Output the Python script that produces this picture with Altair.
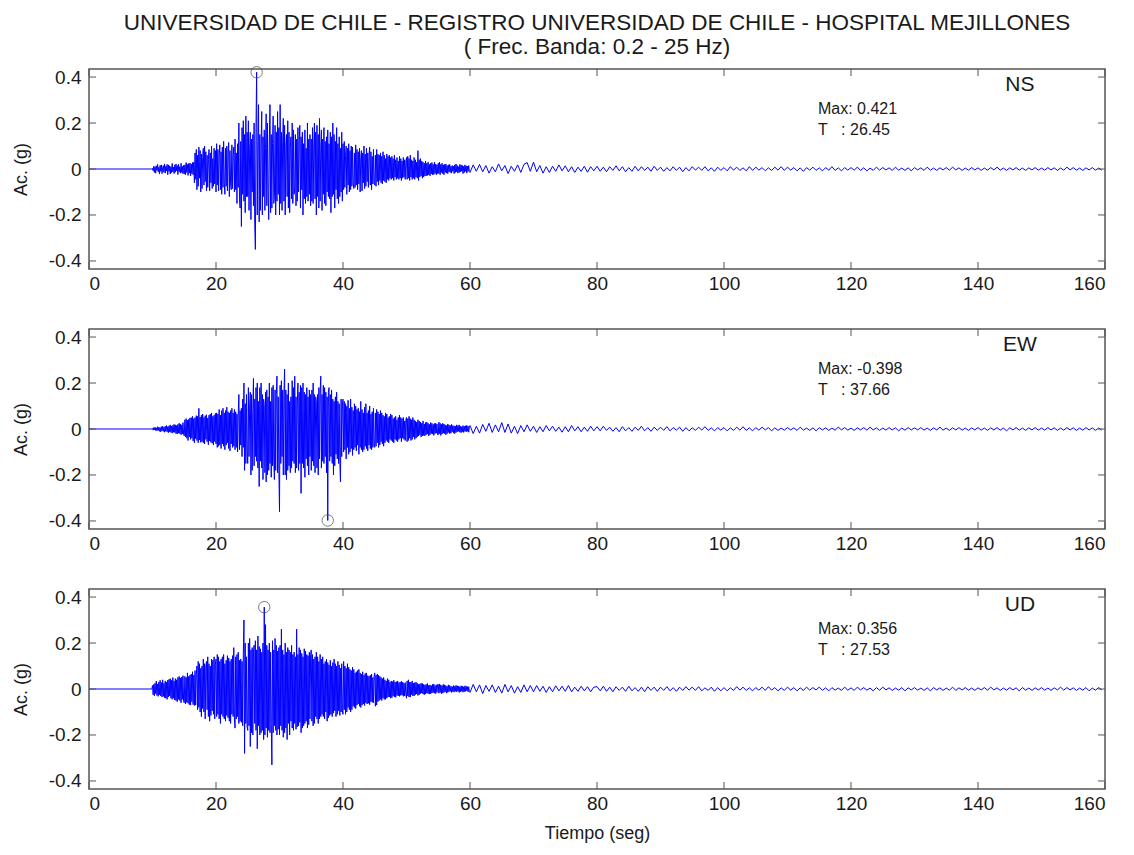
import altair as alt
import pandas as pd

# ---------------- data (accelerations in milli-g) ----------------
T_MAIN0, DT_MAIN = 10.0, 0.1     # strong-motion part, 10 s .. 60 s (one row of 10 = 1 s)
T_TAIL0, DT_TAIL = 60.0, 0.5     # coda, 60 s .. 160 s
PRE_TIMES = [0.0, 9.9]           # quiet record before the event

ns_main = [
    3, -8, 12, -15, 10, -18, 14, -6, 20, -12,
    8, -22, 16, -10, 18, -20, 5, 15, -14, 22,
    -18, 12, -8, 20, -25, 18, -10, 14, -22, 10,
    -16, 24, -12, 8, -20, 18, -14, 22, -8, 15,
    -24, 20, -12, 10, -18, 25, -15, 12, -20, 16,
    -22, 18, -25, 28, -15, 20, -28, 24, -18, 26,
    -30, 22, -20, 28, -25, 30, -60, 70, -45, 85,
    -90, 60, -75, 95, -40, 80, -100, 65, -85, 50,
    90, -70, 100, -55, 75, -95, 60, -80, 40, 85,
    -95, 70, -60, 100, -85, 45, -75, 90, -65, 80,
    -100, 110, -70, 85, -95, 60, 105, -90, 75, -110,
    95, -80, 120, -60, -110, 90, -75, 100, -95, 70,
    115, -120, 80, -65, -90, 105, -85, 60, 95, -100,
    130, -90, 70, -150, 110, -80, 200, -130, -170, 120,
    -250, 180, -110, 210, -140, 150, -190, 230, -120, 160,
    -120, 210, -180, 90, 160, -220, 130, -100, 150, -160,
    200, -240, -350, 180, 421, -200, 120, 280, -230, 150,
    -180, 100, 250, -200, 140, -120, 170, -180, 90, 240,
    -160, 200, -90, -220, 130, 280, -190, 150, -170, 110,
    230, -150, -120, 190, -200, 160, -140, 250, -110, 180,
    -200, 280, -150, 160, -180, 120, 220, -140, 190, -200,
    100, 150, -120, 210, -170, 160, -190, 90, 140, -130,
    200, -150, 170, -110, -80, 150, -160, 130, -140, 180,
    -100, 120, 190, -170, 140, -90, 160, -200, 110, -130,
    170, -150, 90, -120, 200, -140, 130, -110, 150, -160,
    130, -140, 180, -150, 100, 200, -130, 160, -200, 190,
    -120, 150, -170, 220, -140, 90, 170, -180, 130, -110,
    180, -150, 120, -160, 140, -100, 170, -120, 110, -130,
    160, -190, 140, -120, 200, -110, 150, -170, 120, -90,
    180, -130, 110, -150, 140, -120, 90, -100, 160, -140,
    110, -90, 120, -80, 60, 100, -110, 90, -70, 110,
    -100, 80, -90, 100, -75, 95, -60, -85, 70, -80,
    105, -70, 85, -90, 75, -65, 90, -100, 50, 80,
    -95, 70, -60, 100, -85, 65, -75, 90, -55, 70,
    -80, 60, 95, -70, 75, -90, 55, -65, 85, -60,
    -70, 60, -75, 85, -55, 65, -70, 60, -50, 70,
    -60, 55, -65, 75, -50, 60, -55, 45, -60, 65,
    -45, 55, -50, 60, -40, 50, -45, 55, -40, 45,
    -50, 60, -35, 40, -45, 50, -40, 35, -45, 55,
    -40, 45, -50, 35, -40, 50, -35, 40, -45, 30,
    50, -45, 55, -40, 45, -50, 60, -35, 40, -45,
    35, -40, 50, -45, 40, -35, 30, -40, 80, -50,
    40, -35, 45, -30, 35, -40, 30, -35, 25, -30,
    35, -30, 25, -28, 30, -25, 20, -30, 25, -22,
    28, -25, 20, -24, 30, -20, 22, -25, 18, -20,
    25, -20, 30, -25, 20, -15, 25, -20, 18, -25,
    20, -15, 22, -18, 15, -20, 18, -12, 20, -15,
    12, -18, 15, -10, 12, -20, 18, -15, 22, -12,
    15, -18, 10, -15, 20, -12, 18, -10, 15, -20,
    12, -15, 18, -10, 14, -18, 12, -10, 15, -12,
]
ns_tail = [
    -15, 18, -10, 20, -12, 15, -18, 10, -12, 22, -8, 15, -20, 12, -10, 18, -15, 20, 28, -10,
    30, -12, 15, -18, 10, -15, 12, -10, 18, -8, 14, -12, 10, -15, 8, -10, 12, -14, 10, -8,
    12, -10, 8, -12, 10, -6, 14, -8, 10, -12, 6, -10, 12, -8, 10, -6, 8, -10, 12, -6,
    8, -10, 6, -8, 10, -6, 8, -12, 6, -8, 10, -5, 8, -6, 10, -8, 5, -10, 8, -6,
    6, -8, 10, -5, 8, -6, 5, -8, 10, -6, 8, -5, 6, -8, 5, -6, 8, -5, 10, -6,
    8, -5, 6, -8, 5, -10, 6, -5, 8, -6, 5, -8, 6, -5, 10, -6, 5, -8, 6, -5,
    6, -5, 8, -6, 5, -8, 4, -6, 8, -5, 6, -4, 5, -6, 8, -5, 4, -6, 5, -8,
    6, -4, 5, -6, 8, -5, 4, -6, 5, -4, 6, -5, 8, -4, 5, -6, 4, -5, 6, -4,
    5, -6, 4, -5, 6, -4, 8, -5, 4, -6, 5, -4, 6, -5, 4, -6, 5, -4, 6, -5,
    4, -5, 6, -4, 5, -6, 4, -5, 8, -4, 6, -5, 4, -6, 5, -4, 6, -5, 4, -5,
]

ew_main = [
    2, -5, 6, -4, 8, -6, 5, -8, 10, -6,
    8, -10, 6, -12, 10, -8, 12, -10, 8, -14,
    12, -10, 15, -12, 10, -16, 14, -12, 18, -15,
    12, -18, 16, -14, 20, -15, 18, -20, 15, -22,
    20, -18, 25, -20, 22, -25, 18, -22, 28, -24,
    -30, 40, -35, 45, -40, 38, -50, 42, -35, 48,
    -45, 50, -40, 55, -52, 45, -60, 50, -42, 58,
    -50, 55, -60, 90, -48, 52, -58, 60, -55, 65,
    -60, 50, -65, 58, -45, 62, -55, 48, -68, 60,
    -52, 65, -58, 70, -62, 55, -70, 60, -55, 68,
    -65, 70, -80, 65, -75, 85, -70, 60, -85, 80,
    -65, 90, -75, 70, -90, 80, -70, 95, -60, 75,
    -85, 70, -95, 80, -65, 90, -80, 70, -75, 85,
    -90, 75, -80, 65, -100, 60, 150, -90, 80, -70,
    90, -120, 130, -80, 200, -180, 110, -150, 150, -100,
    -150, 180, -120, 100, 160, -200, 150, -180, 90, 220,
    -160, 130, -120, 180, -140, 200, -170, 120, -250, 180,
    -140, 200, -170, 150, -220, 130, 100, -190, 160, -230,
    170, -200, 140, -180, 200, -150, 120, -210, 180, -160,
    190, -140, -220, 170, -180, 150, 230, -190, 140, -180,
    -360, 190, -150, 210, -120, 170, -200, 150, 260, -200,
    170, -220, 150, -180, 200, -160, 120, -190, 140, -170,
    210, -140, 180, -150, 230, -190, 140, -170, 100, 200,
    -180, 160, -150, 190, -280, 180, -150, 200, -170, 160,
    -210, 150, -130, 180, -160, 140, -200, 170, -120, 150,
    -180, 170, -140, 200, -160, 150, -190, 140, 120, -170,
    150, -200, 180, -130, 160, 230, -170, 150, -140, 190,
    -150, 180, -120, 160, -190, 140, -398, 160, 180, -140,
    150, -120, 170, -150, 130, -200, 120, -160, 140, -110,
    160, -130, 120, -150, 110, -140, -230, 130, -120, 100,
    130, -100, 120, -90, 110, -130, 100, -80, 125, -110,
    90, -100, 130, -85, 95, -115, 80, -90, 110, -80,
    100, -95, 85, -70, 90, -110, 75, -80, 120, -90,
    85, -100, 70, -90, 95, -75, 110, -85, 70, -95,
    80, -70, 100, -85, 65, -90, 75, -80, 90, -70,
    -80, 70, -75, 85, -60, 75, -80, 65, -70, 80,
    -55, 70, -65, 60, -75, 55, -60, 70, -50, 65,
    -55, 50, -60, 55, -45, 65, -50, 60, -55, 45,
    -60, 50, -45, 55, -50, 40, -55, 50, -45, 60,
    -40, 50, -55, 45, -40, 50, -45, 35, -50, 40,
    50, -55, 45, -50, 55, -40, 45, -50, 40, -45,
    50, -35, 40, -45, 35, -40, 30, -35, 40, -30,
    35, -25, 30, -35, 25, -30, 35, -28, 22, -30,
    28, -25, 30, -22, 25, -30, 20, -25, 28, -20,
    25, -22, 20, -28, 24, -20, 25, -18, 22, -25,
    -25, 30, -20, 25, -28, 20, -22, 25, -18, 22,
    -20, 18, -25, 15, -20, 22, -15, 18, -20, 15,
    -18, 20, -12, 15, -18, 14, -20, 12, -15, 18,
    -12, 15, -10, 18, -14, 12, -16, 10, -12, 15,
    -15, 12, -10, 14, -12, 16, -10, 12, -14, 10,
]
ew_tail = [
    15, -20, 12, -18, 20, -10, 25, -15, 18, -12, 28, -15, 22, -18, 12, -20, 15, -12, 18, -10,
    12, -15, 10, -12, 15, -8, 12, -10, 8, -14, 10, -12, 15, -8, 10, -12, 8, -10, 12, -8,
    10, -8, 12, -6, 8, -10, 6, -12, 10, -8, 6, -10, 8, -6, 12, -8, 6, -10, 8, -6,
    8, -6, 10, -8, 6, -5, 8, -10, 6, -8, 5, -6, 8, -5, 10, -6, 5, -8, 6, -5,
    6, -8, 5, -6, 8, -5, 10, -6, 5, -8, 6, -5, 8, -4, 6, -8, 5, -6, 4, -5,
    6, -4, 5, -6, 8, -5, 4, -6, 5, -8, 6, -4, 5, -6, 4, -5, 8, -4, 6, -5,
    4, -6, 5, -4, 6, -5, 8, -4, 5, -6, 4, -5, 6, -4, 5, -8, 4, -5, 6, -4,
    5, -4, 6, -5, 4, -6, 5, -4, 8, -5, 4, -6, 5, -4, 6, -5, 4, -6, 5, -4,
    6, -5, 4, -6, 5, -4, 6, -5, 4, -8, 5, -4, 6, -5, 4, -6, 5, -4, 6, -5,
    4, -5, 6, -4, 5, -6, 4, -5, 6, -4, 5, -6, 4, -5, 6, -4, 5, -6, 4, -5,
]

ud_main = [
    15, -25, 20, -30, 25, -20, 35, -28, 22, -32,
    30, -25, 38, -30, 28, -35, 40, -32, 25, -38,
    35, -40, 30, -45, 38, -35, 42, -30, 45, -40,
    38, -45, 50, -40, 35, -48, 45, -50, 40, -55,
    50, -45, 55, -50, 48, -60, 52, -45, 58, -55,
    -60, 55, -65, 50, -58, 70, -62, 55, -68, 60,
    -70, 65, -55, 75, -68, 60, -72, 80, -70, 65,
    100, -90, 120, -80, 110, -100, 90, -120, 100, -85,
    130, -100, 110, -130, 95, 120, -90, 140, -120, 110,
    -140, 100, -115, 130, -95, 125, -110, 140, -130, 105,
    130, -120, 150, -110, 140, -130, 120, -150, 130, -110,
    140, -120, 150, -130, 110, -140, 125, -115, 145, -125,
    135, -140, 120, -150, 130, -110, 145, -120, 180, -135,
    -170, 140, -130, 150, -120, 160, -150, 125, -140, 130,
    -145, 120, -160, 150, 300, -280, 200, -150, 140, -165,
    -180, 200, -160, 220, -250, 170, -190, 180, -200, 160,
    190, -150, 210, -180, 170, -260, 230, -160, 185, -200,
    175, -190, 160, -180, 200, -220, 356, -200, 280, -170,
    190, -210, 170, -180, 200, -190, 160, -150, -330, 210,
    -190, 170, -160, 220, -180, 190, -200, 165, -175, 180,
    -200, 190, -160, 260, -180, 170, -210, 150, -190, 200,
    -170, 160, -220, 180, -150, 170, -200, 160, -140, 190,
    -170, 150, -180, 160, -150, 140, -175, 260, -165, 150,
    -160, 180, -145, 170, -190, 155, -170, 140, -160, 175,
    -150, 165, -140, 150, -170, 145, -155, 160, -130, 150,
    170, -140, 150, -160, 130, -150, 140, -120, 160, -130,
    140, -150, 120, -130, 150, -120, 130, -110, 140, -120,
    110, -130, 120, -100, 130, -140, 115, -125, 105, -115,
    125, -110, 100, -120, 115, -105, 130, -95, 110, -120,
    100, -110, 120, -95, 105, -115, 90, -100, 110, -95,
    -110, 120, -90, 100, -110, 90, -100, 110, -80, 95,
    -90, 85, -100, 80, -90, 95, -75, 85, -80, 70,
    -85, 75, -70, 80, -65, 85, -75, 70, -80, 65,
    -70, 75, -65, 60, -72, 68, -60, 70, -65, 58,
    -62, 55, -68, 60, -55, 65, -58, 50, -60, 55,
    70, -75, 60, -70, 65, -55, 60, -50, 55, -45,
    50, -50, 45, -40, 50, -45, 40, -45, 35, -40,
    45, -35, 40, -35, 30, -40, 35, -38, 32, -30,
    38, -35, 30, -36, 32, -28, 35, -30, 28, -32,
    30, -28, 34, -26, 30, -32, 25, -30, 28, -24,
    -40, 35, -30, 40, -35, 30, -35, 30, -25, 35,
    -30, 25, -30, 28, -25, 30, -22, 25, -28, 20,
    -25, 22, -20, 25, -18, 24, -22, 20, -25, 18,
    -22, 20, -18, 24, -20, 16, -22, 18, -20, 15,
    -18, 20, -16, 22, -18, 15, -20, 18, -15, 20,
    20, -18, 22, -15, 18, -20, 15, -18, 20, -15,
    18, -12, 15, -18, 12, -15, 18, -12, 15, -10,
    12, -15, 10, -12, 15, -14, 12, -10, 16, -12,
    14, -10, 12, -15, 10, -12, 14, -10, 12, -14,
    10, -12, 14, -10, 12, -8, 10, -12, 10, -12,
]
ud_tail = [
    -15, 20, -12, 18, -20, 15, -10, 18, -15, 12, -18, 20, -12, 15, -18, 10, -15, 18, -12, 15,
    -12, 15, -10, 12, -15, 10, -12, 14, -8, 12, -10, 15, -12, 8, -10, 12, -8, 10, -12, 8,
    10, -8, 12, -10, 8, -12, 10, -6, 8, -10, 12, -8, 6, -10, 8, -12, 10, -6, 8, -10,
    8, -6, 10, -8, 6, -10, 8, -6, 10, -5, 8, -6, 10, -8, 5, -6, 8, -10, 6, -8,
    6, -8, 5, -6, 10, -5, 8, -6, 5, -8, 6, -5, 8, -6, 10, -5, 6, -8, 5, -6,
    8, -5, 6, -8, 5, -6, 8, -5, 6, -4, 8, -6, 5, -8, 6, -5, 4, -6, 8, -5,
    5, -6, 8, -4, 6, -5, 4, -8, 6, -5, 8, -4, 5, -6, 4, -5, 6, -8, 5, -4,
    6, -5, 4, -6, 5, -8, 6, -4, 5, -6, 4, -5, 8, -6, 5, -4, 6, -5, 4, -6,
    5, -4, 6, -5, 8, -4, 5, -6, 4, -5, 6, -4, 5, -8, 6, -5, 4, -6, 5, -4,
    6, -5, 4, -6, 5, -4, 8, -5, 6, -4, 5, -6, 4, -5, 6, -8, 4, -5, 6, -4,
]

components = ["NS", "EW", "UD"]
max_labels = ["Max: 0.421", "Max: -0.398", "Max: 0.356"]
time_labels = ["T\u00a0\u00a0\u00a0: 26.45", "T\u00a0\u00a0\u00a0: 37.66", "T\u00a0\u00a0\u00a0: 27.53"]

x_ticks = [0, 20, 40, 60, 80, 100, 120, 140, 160]
y_ticks = [-0.4, -0.2, 0, 0.2, 0.4]

title_lines = [
    "UNIVERSIDAD DE CHILE - REGISTRO UNIVERSIDAD DE CHILE - HOSPITAL MEJILLONES",
    "( Frec. Banda: 0.2 - 25 Hz)",
]

# ---------------- build ----------------
W, H = 1016, 200
FONT = "Liberation Sans"
FRAME = "#555555"
TXT = "#1a1a1a"
X_DOM = [0, 160]
Y_DOM = [-0.435, 0.435]
TICK = 7
LBL = 19


def series(main, tail):
    rows = [{"t": t, "a": 0.0} for t in PRE_TIMES]
    rows += [{"t": T_MAIN0 + i * DT_MAIN, "a": v / 1000.0} for i, v in enumerate(main)]
    rows += [{"t": T_TAIL0 + i * DT_TAIL, "a": v / 1000.0} for i, v in enumerate(tail)]
    return pd.DataFrame(rows)


xs = alt.Scale(domain=X_DOM, nice=False, zero=False)
ys = alt.Scale(domain=Y_DOM, nice=False, zero=False)
xt_df = pd.DataFrame({"v": x_ticks})
yt_df = pd.DataFrame({"v": y_ticks})


def panel(df, comp, mtxt, ttxt, last, title=None):
    xkw = dict(values=x_ticks, ticks=False, domain=False, grid=False,
               labelFontSize=LBL, labelPadding=5, labelFont=FONT,
               labelColor=TXT, titleFontSize=18, titleFont=FONT,
               titleFontWeight="normal", titleColor=TXT, titlePadding=11)
    xkw["title"] = "Tiempo (seg)" if last else None
    xaxis = alt.Axis(**xkw)
    yaxis = alt.Axis(values=y_ticks, ticks=False, domain=False, grid=False,
                     labelFontSize=LBL, labelPadding=8, labelFont=FONT,
                     labelColor=TXT, labelExpr="'' + datum.value",
                     title="Ac. (g)", titleFontSize=18, titleFont=FONT,
                     titleFontWeight="normal", titleColor=TXT, titlePadding=18)

    def X(f):
        return alt.X(f, scale=xs, axis=xaxis)

    def Y(f):
        return alt.Y(f, scale=ys, axis=yaxis)

    line = alt.Chart(df).mark_line(color="#0000ff", strokeWidth=1, clip=True).encode(
        x=X("t:Q"), y=Y("a:Q"))
    peak_i = df["a"].abs().idxmax()
    peak = alt.Chart(df.loc[[peak_i]]).mark_point(
        shape="circle", filled=False, size=130, color="#444444", strokeWidth=1
    ).encode(x=X("t:Q"), y=Y("a:Q"))

    bt = alt.Chart(xt_df).mark_rule(color=FRAME, strokeWidth=1).encode(
        x=X("v:Q"), y=alt.value(H), y2=alt.value(H - TICK))
    tt = alt.Chart(xt_df).mark_rule(color=FRAME, strokeWidth=1).encode(
        x=X("v:Q"), y=alt.value(0), y2=alt.value(TICK))
    lt = alt.Chart(yt_df).mark_rule(color=FRAME, strokeWidth=1).encode(
        y=Y("v:Q"), x=alt.value(0), x2=alt.value(TICK))
    rt = alt.Chart(yt_df).mark_rule(color=FRAME, strokeWidth=1).encode(
        y=Y("v:Q"), x=alt.value(W), x2=alt.value(W - TICK))

    lab = pd.DataFrame({"t": [146.6], "a": [0.365], "txt": [comp]})
    comp_t = alt.Chart(lab).mark_text(fontSize=21, font=FONT, color=TXT, align="center").encode(
        x=X("t:Q"), y=Y("a:Q"), text="txt:N")
    info = pd.DataFrame({"t": [114.8, 114.8], "a": [0.26, 0.17], "txt": [mtxt, ttxt]})
    info_t = alt.Chart(info).mark_text(fontSize=16, font=FONT, color=TXT, align="left").encode(
        x=X("t:Q"), y=Y("a:Q"), text="txt:N")

    props = dict(width=W, height=H)
    if title is not None:
        props["title"] = title
    return alt.layer(line, bt, tt, lt, rt, peak, comp_t, info_t).properties(**props)


data = [series(ns_main, ns_tail), series(ew_main, ew_tail), series(ud_main, ud_tail)]
title = alt.TitleParams(text=title_lines, fontSize=22.5, font=FONT, fontWeight="normal",
                        anchor="middle", frame="group", offset=6, lineHeight=24, color=TXT)

panels = []
for i in range(3):
    panels.append(panel(data[i], components[i], max_labels[i], time_labels[i],
                        last=(i == 2), title=title if i == 0 else None))

chart = alt.vconcat(*panels, spacing=33).configure_view(
    stroke=FRAME, strokeWidth=1.5
).properties(padding={"left": 3, "top": 3, "right": 5, "bottom": 5}, background="white")

chart.save("out.html", embed_options={"renderer": "svg", "actions": False})
